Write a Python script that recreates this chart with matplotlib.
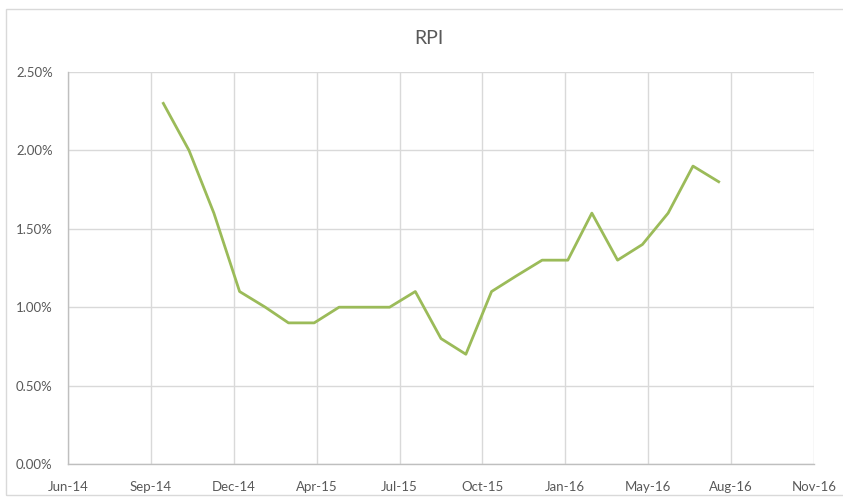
import datetime as dt
import matplotlib
matplotlib.use("Agg")
import matplotlib.pyplot as plt
import matplotlib.dates as mdates
from matplotlib.patches import Rectangle

# monthly RPI, Oct 2014 .. Aug 2016 (percent)
months = ["2014-10", "2014-11", "2014-12", "2015-01", "2015-02", "2015-03",
          "2015-04", "2015-05", "2015-06", "2015-07", "2015-08", "2015-09",
          "2015-10", "2015-11", "2015-12", "2016-01", "2016-02", "2016-03",
          "2016-04", "2016-05", "2016-06", "2016-07", "2016-08"]
rpi = [2.3, 2.0, 1.6, 1.1, 1.0, 0.9, 0.9, 1.0, 1.0, 1.0, 1.1, 0.8,
       0.7, 1.1, 1.2, 1.3, 1.3, 1.6, 1.3, 1.4, 1.6, 1.9, 1.8]
y_ticks = [0.0, 0.5, 1.0, 1.5, 2.0, 2.5]

# excel-style date axis: 100 day major unit
axis_start = dt.date(2014, 6, 8)
x_ticks = [axis_start + dt.timedelta(days=100 * i) for i in range(10)]

dates = [dt.datetime.strptime(m + "-01", "%Y-%m-%d") for m in months]

text_col = "#595959"
grid_col = "#D9D9D9"
font = ["Lato", "DejaVu Sans"]
plt.rcParams["font.family"] = font

fig = plt.figure(figsize=(8.43, 4.97), dpi=100)
W, H = 843, 497
ax = fig.add_axes([68 / W, 33 / H, (814 - 68) / W, (464 - 72) / H])

ax.plot(dates, rpi, color="#9BBB59", linewidth=2.0, solid_joinstyle="round")

ax.set_xlim(x_ticks[0], x_ticks[-1])
ax.set_ylim(0, 2.5)
ax.set_xticks(x_ticks)
ax.xaxis.set_major_formatter(mdates.DateFormatter("%b-%y"))
ax.set_yticks(y_ticks)
ax.set_yticklabels(["%.2f%%" % v for v in y_ticks])

ax.grid(True, color=grid_col, linewidth=1.0)
ax.set_axisbelow(True)
for side in ["top", "right"]:
    ax.spines[side].set_visible(False)
for side in ["left", "bottom"]:
    ax.spines[side].set_color("#BFBFBF")
    ax.spines[side].set_linewidth(1.0)

ax.tick_params(axis="both", length=0, colors=text_col, labelsize=9.5)
ax.tick_params(axis="y", pad=11)
ax.tick_params(axis="x", pad=12)

fig.text(429 / W, 1 - 39 / H, "RPI", ha="center", va="center",
         fontsize=14, color=text_col)

# chart area border
fig.patches.append(Rectangle((6 / W, 2 / H), 1.0, 1 - 11 / H,
                             transform=fig.transFigure, fill=False,
                             edgecolor=grid_col, linewidth=1.0))

fig.savefig("out.png", dpi=100)
